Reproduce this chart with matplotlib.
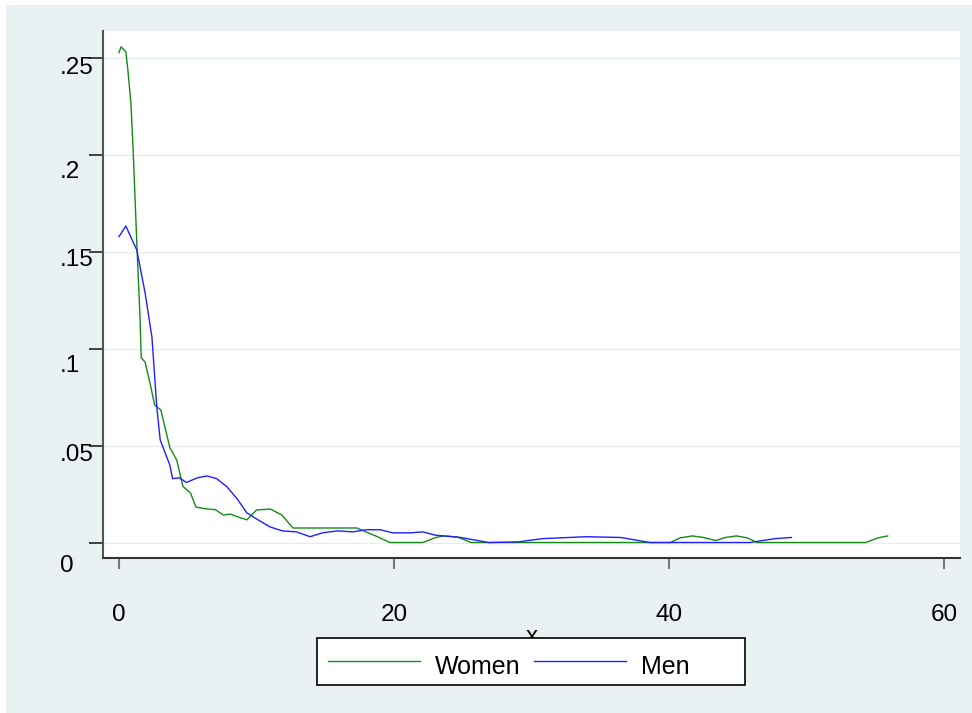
import matplotlib.pyplot as plt
from matplotlib.patches import Rectangle
from matplotlib.lines import Line2D
from matplotlib.transforms import offset_copy

plt.rcParams["font.family"] = ["Liberation Sans", "DejaVu Sans"]

# Women (green) density curve
women_x = [0, 0.15, 0.5, 0.65, 0.87, 1.03, 1.32, 1.53, 1.62, 1.9, 2.25, 2.6, 3.05,
           3.7, 4.2, 4.65, 5.2, 5.6, 6.4, 7.0, 7.6, 8.1, 8.65, 9.3, 10.0, 11.0,
           11.85, 12.65, 17.3, 18.8, 19.7, 22.1, 23.0, 23.6, 24.6, 25.6, 40.1,
           40.8, 41.7, 42.5, 43.4, 44.1, 44.9, 45.7, 46.4, 54.3, 55.2, 55.9]
women_y = [0.253, 0.256, 0.2535, 0.244, 0.227, 0.203, 0.151, 0.1165, 0.0954, 0.0932,
           0.0825, 0.071, 0.0684, 0.049, 0.0426, 0.029, 0.0256, 0.0183, 0.0173,
           0.017, 0.0142, 0.0147, 0.0132, 0.0117, 0.0168, 0.0173, 0.0142, 0.0075,
           0.0075, 0.003, 0, 0, 0.0025, 0.0034, 0.0029, 0, 0,
           0.0024, 0.0034, 0.0026, 0.001, 0.0026, 0.0034, 0.0024, 0, 0, 0.0024, 0.0034]

# Men (blue) density curve
men_x = [0, 0.5, 1.3, 1.9, 2.4, 2.75, 3.0, 3.7, 3.9, 4.4, 4.9, 5.7, 6.4, 7.1, 7.85,
         8.6, 9.3, 10.0, 11.0, 11.9, 12.9, 13.9, 14.8, 15.9, 17.0, 18.0, 19.0, 19.9,
         21.2, 22.1, 23.0, 24.85, 26.9, 29.0, 30.8, 34.0, 36.5, 38.6, 45.9, 47.7, 48.9]
men_y = [0.158, 0.1635, 0.151, 0.129, 0.106, 0.070, 0.053, 0.040, 0.033, 0.0334, 0.031,
         0.0334, 0.0344, 0.033, 0.0288, 0.0225, 0.0153, 0.0122, 0.008, 0.006, 0.0055,
         0.003, 0.005, 0.006, 0.0055, 0.0066, 0.0066, 0.005, 0.005, 0.0055, 0.0038,
         0.0026, 0, 0.0003, 0.002, 0.003, 0.0026, 0, 0, 0.002, 0.0026]

x_ticks = [0, 20, 40, 60]
y_ticks = [0, 0.05, 0.1, 0.15, 0.2, 0.25]
y_labels = ["0", ".05", ".1", ".15", ".2", ".25"]
y_label_shift = [23, 9, 17, 8, 17, 10]  # pixels, the labels sit a bit below their ticks

series_names = ["Women", "Men"]
series_colors = ["#168a16", "#1f1fff"]

FS = 17.5
W, H = 972, 713
fig = plt.figure(figsize=(W / 100, H / 100), dpi=100, facecolor="white")
fig.patches.append(Rectangle((6 / W, 0), 1, 1 - 5 / H, transform=fig.transFigure,
                             facecolor="#eaf1f3", edgecolor="none", zorder=-10))

ax = fig.add_axes([103 / W, (H - 558) / H, (960 - 103) / W, (558 - 31) / H])
ax.set_facecolor("white")

ax.plot(women_x, women_y, color=series_colors[0], lw=1.0)
ax.plot(men_x, men_y, color=series_colors[1], lw=1.0)

ax.set_xlim(-1.16, 61.16)
ax.set_ylim(-0.008, 0.2642)

for yv in y_ticks:
    ax.axhline(yv, color="#e4eef0", lw=1.0, zorder=0)

ax.set_xticks(x_ticks)
ax.set_xticklabels([str(v) for v in x_ticks], fontsize=FS)
ax.set_yticks(y_ticks)
ax.set_yticklabels([""] * len(y_ticks))
ax.tick_params(axis="x", length=8, width=1.5, color="#777777", pad=25)
ax.tick_params(axis="y", length=10, width=1.2, color="#222222")

for yv, lab, dy in zip(y_ticks, y_labels, y_label_shift):
    tr = offset_copy(ax.get_yaxis_transform(), fig=fig, x=0, y=-dy, units="dots")
    ax.text(-43 / (960 - 103), yv, lab, transform=tr, ha="left", va="center", fontsize=FS)

ax.set_xlabel("x", fontsize=FS, labelpad=0)

for side in ["top", "right"]:
    ax.spines[side].set_visible(False)
ax.spines["left"].set_color("#555555")
ax.spines["left"].set_linewidth(1.5)
ax.spines["bottom"].set_color("#333333")
ax.spines["bottom"].set_linewidth(1.5)

# Stata-style legend: equal-width columns inside a plain box
box = Rectangle((317 / W, 1 - 685 / H), (745 - 317) / W, (685 - 638) / H,
                transform=fig.transFigure, facecolor="white", edgecolor="black",
                lw=1.2, zorder=10)
fig.patches.append(box)
col_w = 206
for i, (name, col) in enumerate(zip(series_names, series_colors)):
    x0 = 328 + i * col_w
    fig.lines.append(Line2D([x0 / W, (x0 + 92) / W], [1 - 661 / H, 1 - 661 / H],
                            transform=fig.transFigure, color=col, lw=1.0, zorder=11))
    fig.text((x0 + 107) / W, 1 - 667 / H, name, ha="left", va="center",
             fontsize=18, zorder=11)

fig.savefig("out.png", dpi=100)
